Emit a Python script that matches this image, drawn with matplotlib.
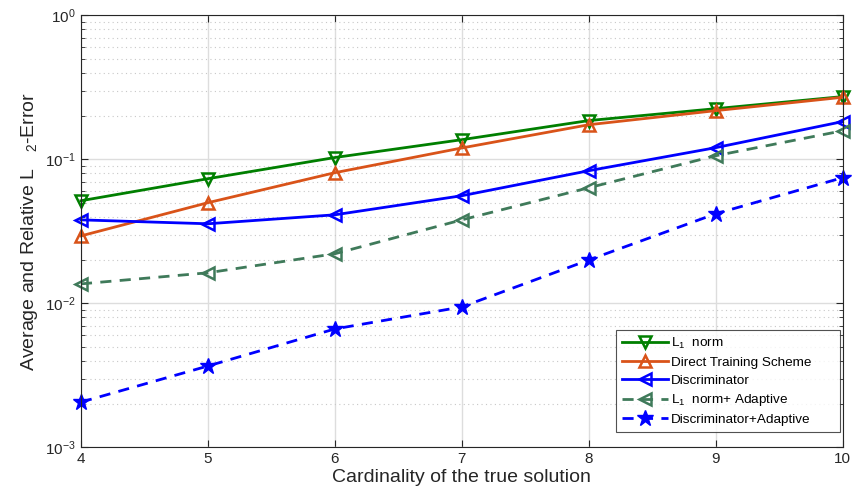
import numpy as np
import matplotlib.pyplot as plt
from matplotlib.ticker import LogLocator, NullFormatter

plt.rcParams['font.family'] = ['Liberation Sans', 'DejaVu Sans']
plt.rcParams['mathtext.fontset'] = 'custom'
plt.rcParams['mathtext.rm'] = 'Liberation Sans'
plt.rcParams['mathtext.it'] = 'Liberation Sans'

cardinality = [4, 5, 6, 7, 8, 9, 10]
l1_norm = [0.0516, 0.0734, 0.103, 0.137, 0.186, 0.225, 0.273]
direct_training = [0.0294, 0.050, 0.0808, 0.120, 0.174, 0.218, 0.270]
discriminator = [0.038, 0.0357, 0.0412, 0.0559, 0.0834, 0.1206, 0.183]
l1_adaptive = [0.01365, 0.0163, 0.0221, 0.038, 0.0635, 0.106, 0.158]
disc_adaptive = [0.00206, 0.00367, 0.00664, 0.00944, 0.020, 0.0419, 0.0746]

fig = plt.figure(figsize=(8.52, 4.97), dpi=100)
ax = fig.add_axes([0.095, 0.100, 0.894, 0.869])

lw = 2.0
ax.plot(cardinality, l1_norm, '-v', color='#007f00', lw=lw, ms=9, mfc='none', mew=1.8,
        clip_on=False, label='L$_1$  norm')
ax.plot(cardinality, direct_training, '-^', color='#d95319', lw=lw, ms=9, mfc='none', mew=1.8,
        clip_on=False, label='Direct Training Scheme')
ax.plot(cardinality, discriminator, '-<', color='#0000ff', lw=lw, ms=9, mfc='none', mew=1.8,
        clip_on=False, label='Discriminator')
ax.plot(cardinality, l1_adaptive, '--<', color='#3f7a5a', lw=lw, ms=9, mfc='none', mew=1.8,
        dashes=(4, 3), clip_on=False, label='L$_1$  norm+ Adaptive')
ax.plot(cardinality, disc_adaptive, '--*', color='#0000ff', lw=lw, ms=12,
        dashes=(4, 3), clip_on=False, label='Discriminator+Adaptive')

ax.set_yscale('log')
ax.set_ylim(1e-3, 1)
ax.set_xlim(4, 10)
ax.set_xticks(cardinality)
ax.yaxis.set_minor_locator(LogLocator(base=10, subs=np.arange(2, 10), numticks=10))
ax.yaxis.set_minor_formatter(NullFormatter())
ax.set_yticks([1e-3, 1e-2, 1e-1, 1])
ax.set_yticklabels(['$10^{-3}$', '$10^{-2}$', '$10^{-1}$', '$10^{0}$'])

ax.grid(True, which='major', color='#dddddd', lw=1.0, ls='-')
ax.grid(True, which='minor', axis='y', color='#c8c8c8', lw=0.8, ls=(0, (1, 3)))
ax.set_axisbelow(True)
ax.tick_params(which='both', direction='in', top=True, right=True, labelsize=11,
               colors='#262626')
ax.tick_params(which='major', length=5)
ax.tick_params(which='minor', length=3)
for s in ax.spines.values():
    s.set_color('#262626')

ax.set_xlabel('Cardinality of the true solution', fontsize=14, color='#262626', labelpad=2)
ax.set_ylabel('Average and Relative L   $_2$-Error', fontsize=14, color='#262626')

# matlab-style legend box: extra room on the right
leg = ax.legend(loc='lower left', bbox_to_anchor=(0.703, 0.035, 0.293, 0.243),
                mode='expand', borderaxespad=0, fontsize=9.7, handlelength=3.4,
                frameon=True, fancybox=False, edgecolor='#262626',
                labelspacing=0.4, handletextpad=0.2, borderpad=0.45)
leg.get_frame().set_linewidth(0.8)

fig.savefig('out.png', dpi=100)
